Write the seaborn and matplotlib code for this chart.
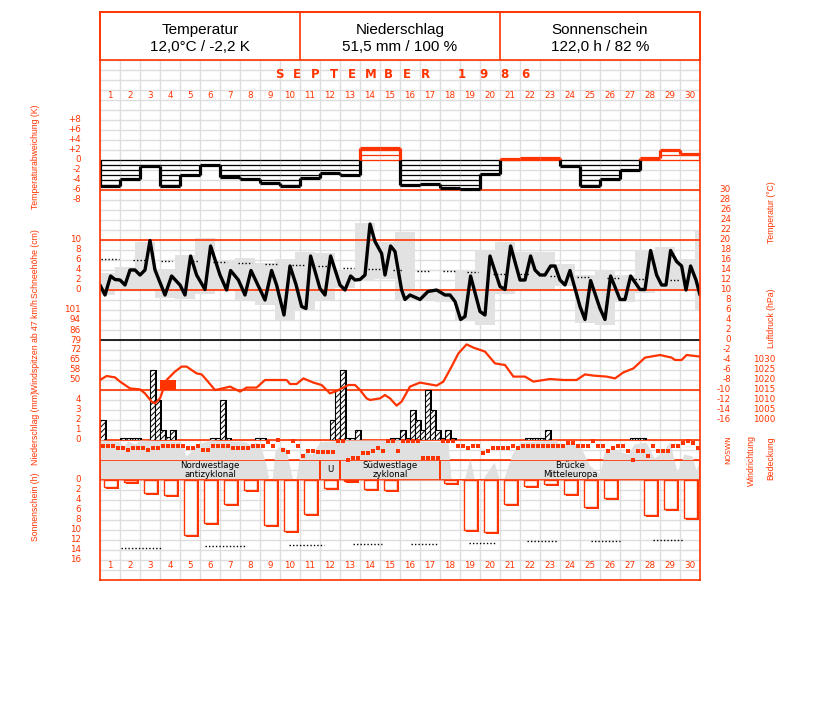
# Klimablatt September 1986 - Nachbau mit seaborn / matplotlib

import numpy as np
import pandas as pd
import matplotlib
matplotlib.use("Agg")
import matplotlib.pyplot as plt
import matplotlib.transforms as mtrans
from matplotlib.patches import Rectangle
from matplotlib import font_manager
import seaborn as sns


# Daten

days = list(range(1, 31))

header_titles = ["Temperatur", "Niederschlag", "Sonnenschein"]
header_values = ["12,0°C / -2,2 K", "51,5 mm / 100 %", "122,0 h / 82 %"]

# Temperaturabweichung je Tag (K)
temp_dev = [-5.1, -3.7, -1.2, -5.1, -3.0, -0.9, -3.3, -3.8, -4.5, -5.1,
            -3.5, -2.5, -2.9, 2.5, 2.4, -5.0, -4.7, -5.5, -5.7, -2.8,
            0.3, 0.5, 0.5, -1.1, -5.2, -3.8, -2.0, 0.5, 2.0, 1.3]

# Temperaturverlauf (Zeit in Tagen ab Monatsbeginn, Grad C)
temp_time = [0.0, 0.25, 0.53, 0.75, 1.0, 1.25, 1.5, 1.75, 2.0, 2.25, 2.5, 2.75,
             3.25, 3.58, 4.0, 4.25, 4.53, 4.83, 5.25, 5.53, 6.0, 6.33, 6.53, 6.92,
             7.25, 7.55, 8.25, 8.58, 8.83, 9.2, 9.5, 9.8, 10.08, 10.3, 10.53, 11.0,
             11.25, 11.53, 12.0, 12.25, 12.53, 12.75, 13.0, 13.25, 13.5, 13.75, 14.08,
             14.25, 14.53, 14.75, 15.08, 15.25, 15.5, 16.0, 16.4, 16.83, 17.25, 17.5,
             17.75, 18.03, 18.25, 18.53, 19.0, 19.25, 19.5, 20.0, 20.25, 20.53, 21.0,
             21.25, 21.53, 21.75, 22.0, 22.25, 22.53, 22.75, 23.0, 23.25, 23.5, 24.0,
             24.25, 24.53, 25.0, 25.25, 25.53, 26.0, 26.25, 26.53, 27.0, 27.25, 27.53,
             27.83, 28.08, 28.3, 28.53, 28.83, 29.08, 29.3, 29.53, 29.8, 30.0]
temp_c = [11.0, 9.0, 12.8, 12.1, 12.0, 11.0, 14.0, 14.0, 13.0, 14.0, 19.9, 14.0,
          9.0, 12.8, 11.0, 9.0, 16.8, 13.0, 10.1, 18.8, 13.0, 10.0, 13.9, 12.0,
          9.0, 13.9, 8.0, 13.9, 11.0, 5.0, 14.8, 11.1, 6.7, 6.3, 16.8, 10.3,
          9.0, 16.8, 11.0, 10.0, 12.8, 12.0, 12.1, 13.0, 23.2, 19.7, 17.3,
          13.0, 18.8, 17.7, 10.0, 8.1, 9.0, 8.1, 9.7, 10.0, 9.0, 9.0,
          7.7, 4.1, 4.7, 12.8, 5.7, 5.0, 16.8, 10.7, 10.1, 18.8, 12.0,
          12.0, 16.8, 14.0, 13.0, 13.0, 14.8, 14.8, 12.0, 11.0, 13.9, 6.7,
          4.1, 11.9, 6.3, 4.1, 12.8, 8.1, 8.1, 12.8, 10.1, 10.1, 17.9,
          13.0, 11.0, 11.0, 17.9, 15.7, 14.8, 10.0, 14.8, 12.0, 9.0]

# Tagesspanne Min/Max (Klimatag, um einen Vierteltag versetzt)
range_min = [9.0, 10.0, 10.0, 8.5, 8.3, 9.3, 10.0, 8.0, 7.0, 4.0, 5.9, 8.0, 10.5,
             11.8, 12.3, 8.0, 8.0, 7.7, 4.0, 3.0, 9.2, 10.1, 10.1, 10.8, 3.5,
             3.0, 7.7, 9.5, 10.1, 10.0, 6.0]
range_max = [13.5, 14.7, 19.7, 14.3, 17.0, 20.5, 16.1, 16.5, 15.5, 16.3, 17.7, 17.5,
             14.1, 23.5, 19.7, 21.7, 10.3, 10.3, 14.0, 18.0, 19.7, 17.7, 17.7, 15.2,
             13.0, 14.0, 13.0, 18.1, 18.7, 16.3, 21.9]

# langjaehriges Mittel (gepunktete Striche)
norm_start = [0.05, 1.67, 3.05, 4.45, 5.67, 6.92, 8.25, 9.58, 10.92, 12.13, 13.42,
              14.67, 15.83, 17.17, 18.33, 19.67, 21.0, 22.5, 23.83, 25.33, 26.75, 28.5]
norm_end = [0.95, 2.3, 3.62, 4.97, 6.33, 7.62, 8.92, 10.25, 11.58, 12.72, 14.0,
            15.17, 16.5, 17.75, 18.92, 20.25, 21.5, 23.0, 24.5, 26.0, 27.33, 29.0]
norm_temp = [16.3, 16.1, 15.9, 15.8, 15.7, 15.4, 15.2, 15.0, 14.8, 14.5, 14.3,
             14.1, 13.9, 13.8, 13.6, 13.3, 13.2, 12.9, 12.7, 12.5, 12.3, 12.1]

# Luftdruck (hPa)
pres_time = [0.0, 0.33, 0.75, 1.0, 1.5, 2.0, 2.25, 2.58, 2.75, 3.0, 3.33, 3.75, 4.08,
             4.33, 4.83, 5.08, 5.33, 5.75, 6.0, 6.5, 7.0, 7.33, 7.83, 8.25, 9.33, 9.5,
             9.83, 10.17, 10.67, 11.08, 11.5, 11.83, 12.08, 12.42, 12.75, 13.0, 13.33,
             13.5, 14.0, 14.25, 14.5, 14.83, 15.08, 15.5, 16.0, 16.5, 16.83, 17.17,
             17.58, 17.92, 18.33, 18.67, 19.25, 19.75, 20.25, 20.67, 21.25, 21.67,
             22.5, 23.17, 23.83, 24.25, 24.67, 25.33, 25.75, 26.17, 26.67, 27.25,
             28.0, 28.58, 28.75, 29.08, 29.33, 29.58, 30.0]
pres_hpa = [1020.0, 1022.0, 1021.3, 1019.2, 1015.8, 1015.3, 1013.3, 1009.2, 1008.3,
            1010.8, 1020.0, 1024.2, 1026.7, 1026.7, 1023.3, 1022.8, 1020.0, 1015.0,
            1015.5, 1016.7, 1014.2, 1016.2, 1016.2, 1020.0, 1020.0, 1018.0, 1018.0,
            1020.8, 1018.7, 1017.5, 1013.3, 1014.5, 1015.8, 1017.5, 1017.5, 1015.0,
            1010.8, 1010.0, 1010.8, 1012.5, 1010.8, 1007.2, 1009.2, 1016.7, 1018.7,
            1017.8, 1017.2, 1019.2, 1026.7, 1033.3, 1037.8, 1036.2, 1034.2, 1028.3,
            1027.5, 1021.7, 1021.7, 1019.2, 1020.5, 1020.0, 1020.0, 1022.8, 1022.2,
            1021.7, 1020.8, 1023.8, 1025.8, 1031.2, 1032.5, 1031.2, 1030.0, 1030.0,
            1032.5, 1032.2, 1031.7]

# Windspitzen (km/h)
gust_day = [4]
gust_kmh = [50]

# Niederschlag in 6-h-Abschnitten (Nummer des Abschnitts, mm)
rain_slot = [0, 4, 5, 6, 7, 10, 11, 12, 13, 14, 22, 23, 24, 25, 31, 32,
             46, 47, 48, 49, 50, 51, 58, 59, 60, 61, 62, 63, 64, 65, 66, 67,
             68, 69, 70, 85, 86, 87, 88, 89, 106, 107, 108]
rain_mm = [2.0, 0.2, 0.2, 0.2, 0.2, 7.0, 4.0, 1.0, 0.3, 1.0, 0.2, 0.2, 4.0, 0.2,
           0.2, 0.2, 2.0, 5.0, 7.0, 0.2, 0.2, 1.0, 0.2, 0.2, 1.0, 0.2, 3.0, 2.0,
           1.0, 5.0, 3.0, 1.0, 0.2, 1.0, 0.2, 0.2, 0.2, 0.2, 0.2, 1.0, 0.2, 0.2, 0.2]

# Windrichtung je 6 h (Grad)
wind_dir = [258, 258, 258, 222, 222, 180, 222, 222, 222, 180, 222, 222,
            258, 258, 258, 258, 258, 222, 222, 258, 180, 180, 258, 258,
            258, 258, 222, 222, 222, 222, 258, 258, 258, 318, 258, 360,
            180, 138, 342, 258,
            72, 162, 162, 138, 138, 138, 138, 342, 342, 0, 42, 42,
            120, 120, 162, 210, 162, 342, 342, 162,
            342, 342, 342, 342, 42, 42, 42, 42, 342, 342, 342, 252,
            252, 222, 252, 252, 132, 162, 222, 222, 222, 222, 252, 222,
            252, 252, 252, 252, 252, 252, 252, 252, 252, 312, 312, 252,
            252, 252, 342, 252, 252, 162, 222, 252, 252, 162, 0, 162,
            162, 72, 252, 162, 162, 162, 252, 252, 312, 342, 312, 222]

# Bedeckung (Anteil)
cloud_time = [0.0, 0.9, 1.2, 1.4, 1.75, 2.0, 4.0, 4.15, 4.3, 4.5, 4.9, 5.5, 7.3, 7.6,
              7.75, 8.0, 8.3, 8.45, 8.6, 8.75, 9.0, 9.3, 9.5, 9.65, 9.8, 10.0, 10.3,
              10.6, 11.0, 12.0, 15.0, 17.4, 17.55, 18.2, 18.5, 18.7, 19.1, 19.7,
              19.95, 20.2, 20.6, 21.0, 22.8, 23.0, 23.5, 24.0, 24.5, 25.0, 25.2,
              25.8, 26.4, 26.7, 27.3, 27.7, 28.0, 28.5, 28.85, 29.2, 29.6, 29.8, 30.0]
cloud_cover = [1.0, 0.97, 0.85, 0.97, 0.9, 1.0, 0.97, 0.8, 0.6, 0.7, 0.9, 1.0, 0.95,
               0.85, 0.95, 0.9, 0.4, 0.0, 0.0, 0.75, 0.85, 0.8, 0.3, 0.0, 0.05, 0.65,
               0.7, 0.65, 0.95, 1.0, 1.0, 0.95, 0.05, 0.0, 0.55, 0.05, 0.0, 0.45,
               0.05, 0.05, 0.65, 0.95, 1.0, 0.85, 0.95, 0.85, 0.35, 0.15, 0.7,
               0.75, 0.65, 0.9, 0.95, 0.55, 0.65, 0.95, 0.2, 0.65, 0.6, 0.25, 0.5]

# Grosswetterlagen
gwl_name = ["Nordwestlage\nantizyklonal", "U", "Südwestlage\nzyklonal", "Brücke\nMitteleuropa"]
gwl_start = [0, 11, 12, 17]
gwl_end = [11, 12, 17, 30]

# Sonnenschein (h) und moegliche Dauer (gepunktet)
sun_hours = [1.3, 0.3, 2.5, 2.9, 11.0, 8.5, 4.7, 1.9, 9.0, 10.2, 6.7, 1.5, 0.2, 1.7, 2.0,
             0.0, 0.0, 0.5, 9.9, 10.3, 4.7, 1.2, 0.7, 2.7, 5.3, 3.5, 0.0, 6.9, 5.8, 7.5]
sun_ref_start = [1.05, 5.25, 9.45, 12.65, 15.53, 18.45, 21.33, 24.55, 27.63]
sun_ref_end = [3.08, 7.3, 11.2, 14.08, 16.9, 19.8, 22.9, 26.0, 29.2]
sun_ref = [13.5, 13.2, 13.0, 12.8, 12.7, 12.5, 12.2, 12.1, 11.9]

# Achsenbeschriftungen
dev_ticks = [8, 6, 4, 2, 0, -2, -4, -6, -8]
snow_ticks = [10, 8, 6, 4, 2, 0]
gust_ticks = [101, 94, 86, 79, 72, 65, 58, 50]
rain_ticks = [4, 3, 2, 1, 0]
sun_ticks = [0, 2, 4, 6, 8, 10, 12, 14, 16]
temp_ticks = list(range(30, -17, -2))
pres_ticks = [1030, 1025, 1020, 1015, 1010, 1005, 1000]


# Stil

sns.set_theme(style="white")
RED = "#ff3300"
GRID = "#dedede"
names = {f.name for f in font_manager.fontManager.ttflist}
NARROW = "Liberation Sans Narrow" if "Liberation Sans Narrow" in names else "Liberation Sans"
TICKFONT = "DejaVu Sans"
plt.rcParams["hatch.linewidth"] = 0.7

W, H = 827, 702
fig = plt.figure(figsize=(W / 100, H / 100), dpi=100)


def rect(left, top, right, bottom):
    return [left / W, 1 - bottom / H, (right - left) / W, (bottom - top) / H]


def panel(top, bottom):
    ax = fig.add_axes(rect(100, top, 700, bottom))
    ax.set_xlim(0, 30)
    ax.axis("off")
    return ax


def tick_labels(ax, values, labels, x_px, ha="right"):
    tr = mtrans.blended_transform_factory(fig.transFigure, ax.transData)
    for v, lab in zip(values, labels):
        ax.text(x_px / W, v, lab, transform=tr, ha=ha, va="center",
                color=RED, fontsize=6.3, family=TICKFONT, clip_on=False)


def side_label(x_px, y_px, text, size=6.2):
    fig.text(x_px / W, 1 - y_px / H, text, rotation=90, ha="center", va="center",
             color=RED, fontsize=size, family=NARROW)


# Hintergrundraster
bg = fig.add_axes(rect(100, 60, 700, 580))
bg.set_xlim(0, 30)
bg.set_ylim(52, 0)
bg.set_xticks(np.arange(31))
bg.set_yticks(np.arange(53))
bg.tick_params(length=0, labelbottom=False, labelleft=False)
bg.grid(True, color=GRID, lw=1)
for s in bg.spines.values():
    s.set_visible(False)
for row in [13, 33, 38, 40, 42]:
    bg.axhline(row, color=RED, lw=1.2)

# Tagesnummern und Monat
for d in days:
    for row in [3.5, 50.5]:
        bg.text(d - 0.5, row, str(d), ha="center", va="center", color=RED,
                fontsize=6.3, family=TICKFONT)
for i, ch in enumerate("SEPTEMBER"):
    fig.text((279 + 18.3 * i) / W, 1 - 75 / H, ch, ha="center", va="center",
             color=RED, fontsize=8.5, fontweight="bold", family=TICKFONT)
for i, ch in enumerate("1986"):
    fig.text((462 + 21 * i) / W, 1 - 75 / H, ch, ha="center", va="center",
             color=RED, fontsize=8.5, fontweight="bold", family=TICKFONT)

# Kopfzeile
hdr = fig.add_axes(rect(100, 12, 700, 60))
hdr.set_xlim(0, 3)
hdr.set_ylim(0, 1)
hdr.set_xticks([])
hdr.set_yticks([])
for s in hdr.spines.values():
    s.set_color(RED)
    s.set_linewidth(1.2)
for i in [1, 2]:
    hdr.axvline(i, color=RED, lw=1.2)
for i, (t, v) in enumerate(zip(header_titles, header_values)):
    hdr.text(i + 0.5, 0.63, t, ha="center", va="center", fontsize=11, family=NARROW, color="black")
    hdr.text(i + 0.5, 0.27, v, ha="center", va="center", fontsize=11, family=NARROW, color="black")

# Temperaturabweichung
dev_ax = panel(100, 200)
dev_ax.set_ylim(-8, 12)
dev = np.array(temp_dev)
for i, v in enumerate(dev):
    col = "black" if v < 0 else RED
    levels = np.sign(v) * np.arange(0, int(np.floor(abs(v))) + 1)
    dev_ax.hlines(levels, i, i + 1, color=col, lw=0.9)
    dev_ax.hlines(v, i, i + 1, color=col, lw=2.3)
left_vals = np.concatenate([[0.0], dev])
right_vals = np.concatenate([dev, [0.0]])
for i in range(31):
    a, b = left_vals[i], right_vals[i]
    if a * b >= 0:
        col = "black" if min(a, b) < 0 else RED
        dev_ax.vlines(i, min(a, b), max(a, b), color=col, lw=2.3)
    else:
        dev_ax.vlines(i, min(a, 0), max(a, 0), color="black" if a < 0 else RED, lw=2.3)
        dev_ax.vlines(i, min(b, 0), max(b, 0), color="black" if b < 0 else RED, lw=2.3)
tick_labels(dev_ax, dev_ticks, [("+%d" % v) if v > 0 else str(v) for v in dev_ticks], 81)

# Temperatur
t_ax = panel(190, 420)
t_ax.set_ylim(-16, 30)
rmin = np.array(range_min)
rmax = np.array(range_max)
t_ax.bar(np.arange(len(rmin)) - 0.25, rmax - rmin, bottom=rmin, width=1.0,
         align="edge", color="#e2e2e2", lw=0)
t_ax.axhline(20, color=RED, lw=1.2)
t_ax.axhline(10, color=RED, lw=1.2)
t_ax.axhline(0, color="black", lw=1.2)
t_ax.hlines(norm_temp, norm_start, norm_end, colors="black", linestyles=(0, (1, 1.5)), lw=1)
temp_df = pd.DataFrame({"t": temp_time, "temp": temp_c})
sns.lineplot(data=temp_df, x="t", y="temp", ax=t_ax, color="black", lw=2.4, sort=False)
t_ax.axis("off")
tick_labels(t_ax, temp_ticks, [str(v) for v in temp_ticks], 731)

snow_ax = panel(240, 290)
snow_ax.set_ylim(0, 10)
tick_labels(snow_ax, snow_ticks, [str(v) for v in snow_ticks], 81)

# Windspitzen
gust_ax = panel(310, 390)
g_base = 50 - 10 * (101 - 50) / 70
gust_ax.set_ylim(g_base, 101)
gust_ax.bar(np.array(gust_day) - 1, np.array(gust_kmh) - g_base, bottom=g_base,
            width=0.8, align="edge", color=RED, lw=0)
tick_labels(gust_ax, gust_ticks, [str(v) for v in gust_ticks], 81)

# Niederschlag
rain_ax = panel(340, 440)
rain_ax.set_ylim(0, 10)
slot_x = np.array(rain_slot) * 0.25
rain_ax.bar(slot_x + 0.08, rain_mm, width=0.25, align="edge", color="black", lw=0)
rain_ax.bar(slot_x, rain_mm, width=0.25, align="edge", facecolor="white",
            edgecolor="black", lw=0.8, hatch="//////")
tick_labels(rain_ax, rain_ticks, [str(v) for v in rain_ticks], 81)

# Luftdruck
pres_ax = panel(340, 420)
pres_ax.set_ylim(1000, 1040)
pres_df = pd.DataFrame({"t": pres_time, "hpa": pres_hpa})
sns.lineplot(data=pres_df, x="t", y="hpa", ax=pres_ax, color=RED, lw=1.6, sort=False)
pres_ax.axis("off")
tick_labels(pres_ax, pres_ticks, [str(v) for v in pres_ticks], 775)

# Bedeckung
cloud_ax = panel(440, 480)
cloud_ax.set_ylim(0, 1)
cloud_ax.fill_between(cloud_time, 0, cloud_cover, color="#e0e0e0", lw=0)

# Grosswetterlagen
gwl_ax = panel(460, 480)
gwl_ax.set_ylim(0, 1)
for name, s, e in zip(gwl_name, gwl_start, gwl_end):
    gwl_ax.add_patch(Rectangle((s, 0), e - s, 1, fill=False, edgecolor=RED, lw=1.2))
    gwl_ax.text((s + e) / 2, 0.5, name, ha="center", va="center", fontsize=6.2,
                family=TICKFONT, color="black", linespacing=0.95)

# Windrichtung
wd_ax = panel(440, 460)
wd_ax.set_ylim(0, 360)
wd_df = pd.DataFrame({"t": np.arange(len(wind_dir)) * 0.25 + 0.125, "deg": wind_dir})
sns.scatterplot(data=wd_df, x="t", y="deg", ax=wd_ax, marker="s", s=5,
                color=RED, linewidth=0, clip_on=False)
wd_ax.axis("off")
fig.text(728 / W, 1 - 450 / H, "NOSWN", rotation=90, ha="center", va="center",
         color=RED, fontsize=5.3, family=TICKFONT)

# Sonnenschein
sun_ax = panel(480, 560)
sun_ax.set_ylim(16, 0)
sun = np.array(sun_hours)
has_sun = sun > 0
sx = np.arange(30)[has_sun] + 0.2
sun_ax.bar(sx + 0.1, sun[has_sun] + 0.4, width=0.63, align="edge", color=RED, lw=0)
sun_ax.bar(sx, sun[has_sun], width=0.63, align="edge", facecolor="white",
           edgecolor=RED, lw=1)
sun_ax.hlines(sun_ref, sun_ref_start, sun_ref_end, colors="black",
              linestyles=(0, (1, 1.5)), lw=1)
tick_labels(sun_ax, sun_ticks, [str(v) for v in sun_ticks], 81)

# Seitliche Beschriftungen
side_label(35, 157, "Temperaturabweichung (K)")
side_label(35, 264, "Schneehöhe (cm)")
side_label(35, 346, "Windspitzen ab 47 km/h")
side_label(35, 428, "Niederschlag (mm)")
side_label(35, 507, "Sonnenschein (h)")
side_label(771, 212, "Temperatur (°C)")
side_label(771, 318, "Luftdruck (hPa)")
side_label(751, 461, "Windrichtung")
side_label(771, 458, "Bedeckung")

# Rahmen
frame = fig.add_axes(rect(100, 12, 700, 580))
frame.set_xticks([])
frame.set_yticks([])
frame.patch.set_alpha(0)
for s in frame.spines.values():
    s.set_color(RED)
    s.set_linewidth(1.2)

fig.savefig("out.png", dpi=100)
